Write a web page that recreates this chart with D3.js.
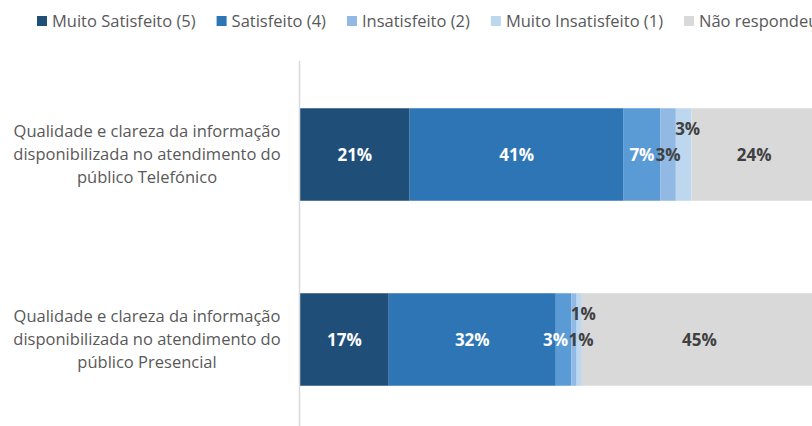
<!DOCTYPE html>
<html>
<head>
<meta charset="utf-8">
<script src="https://cdn.jsdelivr.net/npm/d3@7"></script>
<style>
  html, body { margin: 0; padding: 0; background: #fff; }
  svg { display: block; font-family: "Open Sans", "Noto Sans", sans-serif; }
</style>
</head>
<body>
<svg id="chart" width="812" height="426"></svg>
<script>
var categories = ["Telefónico", "Presencial"],
    categoryLines = [
      ["Qualidade e clareza da informação", "disponibilizada no atendimento do", "público Telefónico"],
      ["Qualidade e clareza da informação", "disponibilizada no atendimento do", "público Presencial"]
    ],
    seriesNames = ["Muito Satisfeito (5)", "Satisfeito (4)", "Indiferente (3)",
                   "Insatisfeito (2)", "Muito Insatisfeito (1)", "Não respondeu"],
    // one row per category, in the series order above (percent)
    values = [
      [21, 41, 7, 3, 3, 24],
      [17, 32, 3, 1, 1, 45]
    ],
    // the (3) entry sits past the right edge of the cropped source, so it is left out
    legendOrder = [0, 1, 3, 4, 5],
    colors = ["#1f4e79", "#2e75b6", "#5b9bd5", "#92b9e3", "#bdd7ee", "#d9d9d9"],
    labelColors = ["#fff", "#fff", "#fff", "#404040", "#404040", "#404040"];

var svg = d3.select("#chart"),
    AXIS_X = 300,
    x = d3.scaleLinear().domain([0, 100]).range([AXIS_X, AXIS_X + 522]),
    y = d3.scaleBand().domain(categories).range([62, 432])
          .paddingInner(0.5).paddingOuter(0.25);

var stack = d3.stack()
  .keys(d3.range(seriesNames.length))
  .value(function (d, k) { return d.vals[k]; });

var rows = categories.map(function (c, i) { return {cat: c, vals: values[i]}; }),
    layers = stack(rows);

// Bars.
svg.append("g").attr("class", "bars")
  .selectAll("g.layer").data(layers).enter()
  .append("g").attr("class", "layer")
  .attr("fill", function (d) { return colors[d.key]; })
  .selectAll("rect").data(function (d) { return d; }).enter()
  .append("rect")
  .attr("x", function (d) { return x(d[0]); })
  .attr("y", function (d) { return y(d.data.cat); })
  .attr("width", function (d) { return x(d[1]) - x(d[0]); })
  .attr("height", y.bandwidth());

// Vertical category axis line.
svg.append("line")
  .attr("x1", AXIS_X - 0.5).attr("x2", AXIS_X - 0.5)
  .attr("y1", 61).attr("y2", 426)
  .attr("stroke", "#d9d9d9").attr("stroke-width", 1.5);

// Data labels, drawn after all bars. Small adjacent segments get nudged apart.
var labelData = [];
layers.forEach(function (l) {
  l.forEach(function (p) { labelData.push({p: p, key: l.key, v: p[1] - p[0]}); });
});

function nudgeX(d) {
  if (d.key === 4) return 4;
  if (d.v <= 3 && d.key === 2) return -8;
  if (d.v <= 1 && d.key === 3) return 7;
  return 0;
}

svg.append("g").attr("class", "labels")
  .selectAll("text").data(labelData).enter()
  .append("text")
  .attr("x", function (d) { return (x(d.p[0]) + x(d.p[1])) / 2 + nudgeX(d); })
  .attr("y", function (d) {
    var cy = y(d.p.data.cat) + y.bandwidth() / 2;
    return d.key === 4 ? cy - 26 : cy;
  })
  .attr("dy", "0.36em")
  .attr("text-anchor", "middle")
  .attr("font-size", 17)
  .attr("font-weight", 700)
  .attr("fill", function (d) { return labelColors[d.key]; })
  .text(function (d) { return d.v + "%"; });

// Category labels.
svg.append("g").attr("class", "cats")
  .selectAll("text").data(categories).enter()
  .append("text")
  .attr("text-anchor", "middle")
  .attr("font-size", 16.5)
  .attr("fill", "#595959")
  .attr("transform", function (d) {
    return "translate(147," + (y(d) + y.bandwidth() / 2 - 23) + ")";
  })
  .selectAll("tspan").data(function (d, i) { return categoryLines[i]; }).enter()
  .append("tspan")
  .attr("x", 0)
  .attr("y", function (d, i) { return i * 23; })
  .attr("dy", "0.35em")
  .text(function (d) { return d; });

// Legend.
var legend = svg.append("g").attr("class", "legend").attr("font-size", 16.5).attr("fill", "#595959"),
    lx = 37;
legendOrder.forEach(function (k) {
  var g = legend.append("g").attr("transform", "translate(" + lx + ",0)");
  g.append("rect").attr("x", 0).attr("y", 16).attr("width", 10).attr("height", 10)
    .attr("fill", colors[k]);
  var t = g.append("text").attr("x", 15).attr("y", 21).attr("dy", "0.35em").text(seriesNames[k]);
  lx += 15 + t.node().getComputedTextLength() + 21;
});
</script>
</body>
</html>
